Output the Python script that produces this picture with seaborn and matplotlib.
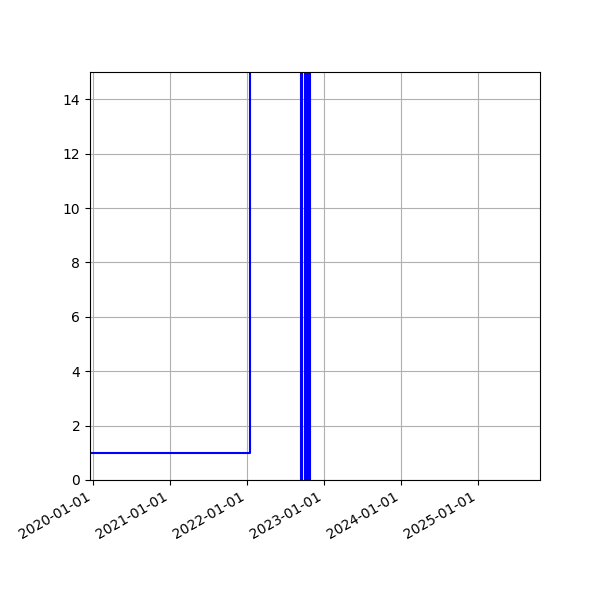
import numpy as np
import pandas as pd
import matplotlib
matplotlib.use("Agg")
import matplotlib.pyplot as plt
import matplotlib.dates as mdates
import seaborn as sns

# step series, values (off-scale values above 15 guessed)
dates = ["2019-12-18", "2022-01-15", "2022-09-12", "2022-09-18",
         "2022-10-04", "2022-10-12", "2022-10-20", "2022-10-28", "2025-10-22"]
values = [1, 40, 0, 40, 0, 40, 0, 40, 40]

df = pd.DataFrame({"date": pd.to_datetime(dates), "value": values})

fig, ax = plt.subplots(figsize=(6, 6), dpi=100)
sns.lineplot(data=df, x="date", y="value", ax=ax, color="blue",
             drawstyle="steps-post", linewidth=1.5)

ax.set_xlim(df["date"].iloc[0], df["date"].iloc[-1])
ax.set_ylim(0, 15)
ax.set_xlabel("")
ax.set_ylabel("")
ax.xaxis.set_major_locator(mdates.YearLocator())
ax.xaxis.set_major_formatter(mdates.DateFormatter("%Y-%m-%d"))
ax.grid(True)
fig.autofmt_xdate()
plt.subplots_adjust(left=0.15, right=0.9, top=0.88, bottom=0.2)

fig.savefig("out.png")
